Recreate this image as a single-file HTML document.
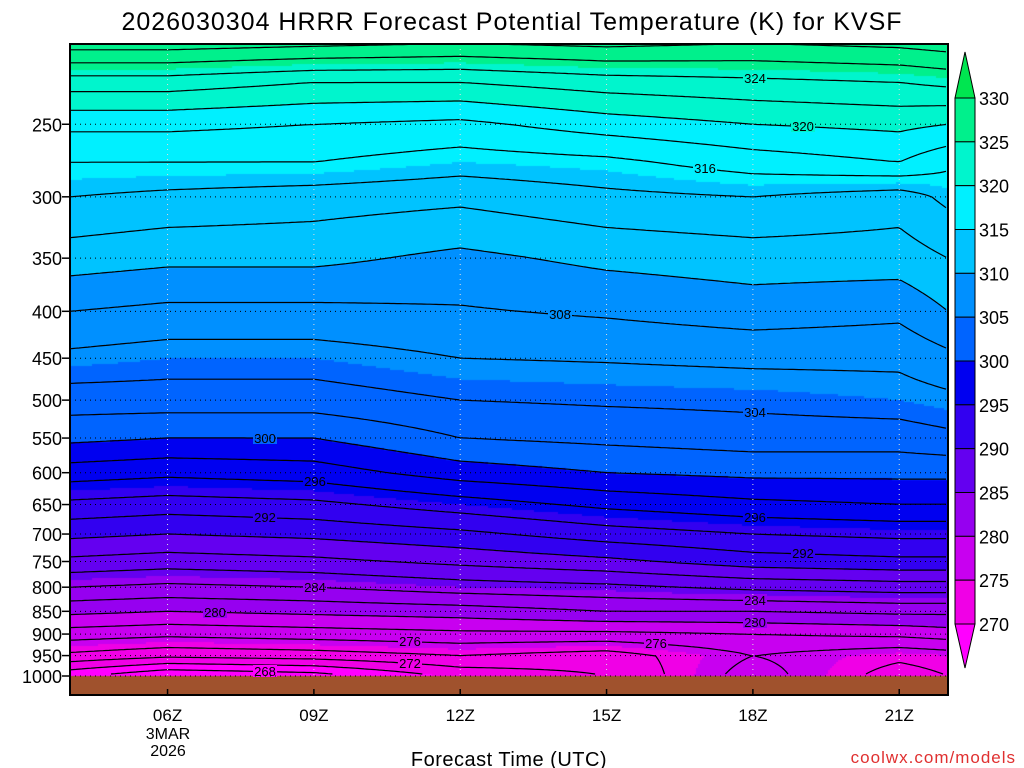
<!DOCTYPE html>
<html><head><meta charset="utf-8"><style>
body{margin:0;background:#fff;width:1024px;height:768px;overflow:hidden;font-family:"Liberation Sans",sans-serif}
#wrap{position:relative;width:1024px;height:768px}
canvas,svg{position:absolute;left:0;top:0}
</style></head><body><div id="wrap">
<canvas id="cv" width="1024" height="768"></canvas>
<svg id="sv" width="1024" height="768"></svg>
</div>
<script>
const times=[4,6,9,12,15,18,21,22];
const levels=[204,225,250,275,300,350,400,450,500,550,600,650,700,750,800,850,900,950,1000];
const th04=[329,323,318.5,316,314,311,308,305.5,303,300.5,297,293.5,290.5,287.5,284,280.5,277,273.5,268.5];
const th06=[329,323,318.5,316,313.5,310.5,307.5,305,303,300,296.5,293,290,287,283.5,280,276.5,272.5,266];
const th09=[328.5,322,318,316,313,310.5,307.5,305,303,300,297,293.5,290.5,287.5,284,280.5,277,273,267];
const th12=[328,322,317.5,315,312.5,309.5,307.8,306,304,302,299,295,291.5,288.5,285,281,277.5,274,270.5];
const th15=[328.5,323,319,315.5,313.5,310.5,308.3,306.2,304.3,302.5,300,296.5,293,289.5,285.5,282,277.5,273,272];
const th18=[328,323.5,320,317,314,311,309,306.5,304.5,303,300.5,297.5,294,291,286.5,282,278,276,277];
const th21=[328.5,324,320.5,318,313,311,308.5,306.5,305,303,300.5,298,294.5,291.5,287,282.5,278.5,274.5,273];
const th22=[329,324.5,320,316.5,314.5,312,310,307.5,305.5,303.5,300.5,298,294.5,291.5,287,282.5,279,275,274];
const cols=[th04,th06,th09,th12,th15,th18,th21,th22];
const yTicks=[250,300,350,400,450,500,550,600,650,700,750,800,850,900,950,1000];
const xTicks=[6,9,12,15,18,21];
const xTickLabels=["06Z","09Z","12Z","15Z","18Z","21Z"];
const cbLevels=[330,325,320,315,310,305,300,295,290,285,280,275,270];
const cbColors=["#00e650","#00f08c","#00f5cd","#00f0ff","#00c3ff","#0090ff","#0064ff","#0000f0","#3200f0","#6400f0","#9600f0","#c800f0","#f000e6","#ff00ff"];
const labelSpots=[[328,410],[324,755],[320,803],[316,705],[308,560],[304,755],[300,265],[296,315],[292,265],[296,755],[292,803],[284,315],[280,215],[284,755],[280,755],[276,410],[276,656],[272,410],[268,265]];

const X0=70,X1=948,Y0=44,YS=676,YB=695;
const xs=t=>X0+(t-4)*(X1-X0)/18;
const yp=p=>YS-398*Math.log(1000/p);
const ly=levels.map(yp);
function field(x,y){
  const t=4+(x-X0)*18/(X1-X0);
  let i=0;while(i<times.length-2&&t>times[i+1])i++;
  let ft=(t-times[i])/(times[i+1]-times[i]);ft=Math.max(0,Math.min(1,ft));
  let j=0;while(j<levels.length-2&&y>ly[j+1])j++;
  let fy=(y-ly[j])/(ly[j+1]-ly[j]);fy=Math.max(0,Math.min(1,fy));
  const a=cols[i][j]*(1-fy)+cols[i][j+1]*fy,b=cols[i+1][j]*(1-fy)+cols[i+1][j+1]*fy;
  return a*(1-ft)+b*ft;
}
function colorOf(v){
  if(v>=330)return cbColors[0];
  for(let k=1;k<cbLevels.length;k++)if(v>=cbLevels[k])return cbColors[k];
  return cbColors[13];
}
const cv=document.getElementById('cv'),ctx=cv.getContext('2d');
for(let x=X0;x<X1;x+=2)for(let y=Y0;y<YS;y+=2){ctx.fillStyle=colorOf(field(x+1,y+1));ctx.fillRect(x,y,2,2);}
ctx.fillStyle="#a0522d";ctx.fillRect(X0,YS,X1-X0,YB-YS);

const NS="http://www.w3.org/2000/svg",sv=document.getElementById('sv');
function mk(tag,attrs,parent){const e=document.createElementNS(NS,tag);for(const k in attrs)e.setAttribute(k,attrs[k]);(parent||sv).appendChild(e);return e;}
const st=3,gx=[],gy=[];
for(let x=X0;x<=X1;x+=st)gx.push(x);
for(let y=Y0;y<=YS;y+=st)gy.push(y);
const G=gy.map(y=>gx.map(x=>field(x,y)));
const cg=mk('g',{});

for(let L=266;L<=330;L+=2){
  let d='';
  for(let j=0;j<gy.length-1;j++)for(let i=0;i<gx.length-1;i++){
    const v=[G[j][i],G[j][i+1],G[j+1][i+1],G[j+1][i]];
    const P=[[gx[i],gy[j]],[gx[i+1],gy[j]],[gx[i+1],gy[j+1]],[gx[i],gy[j+1]]];
    const pts=[];
    for(let e=0;e<4;e++){const a=v[e],b=v[(e+1)%4];if((a<L)!==(b<L)){const f=(L-a)/(b-a),p=P[e],q=P[(e+1)%4];pts.push([p[0]+f*(q[0]-p[0]),p[1]+f*(q[1]-p[1])]);}}
    for(let k=0;k+1<pts.length;k+=2)d+=`M${pts[k][0].toFixed(1)} ${pts[k][1].toFixed(1)}L${pts[k+1][0].toFixed(1)} ${pts[k+1][1].toFixed(1)}`;
  }
  if(d){const p=mk('path',{d:d,stroke:'#000','stroke-width':1.2,fill:'none'},cg);
  }
}
labelSpots.forEach(([L,x])=>{
  let y=null;for(let yy=Y0+4;yy<YS-1;yy++){const a=field(x,yy),b=field(x,yy+1);if((a<L)!==(b<L)){y=yy;break;}}
  if(y===null)return;
  const bg=mk('rect',{x:x-12,y:y-6,width:24,height:12,fill:colorOf(field(x,y))});
  
  const t=mk('text',{x:x,y:y+5,'font-size':13,'text-anchor':'middle',fill:'#000'});t.textContent=L;
  
});
yTicks.forEach(p=>{const y=yp(p);
  const l=mk('line',{x1:X0,x2:X1,y1:y,y2:y,stroke:'#000','stroke-width':1,'stroke-dasharray':'1,4'});
  
  const tk=mk('line',{x1:X0-8,x2:X0,y1:y,y2:y,stroke:'#000','stroke-width':1.5});
  
  const t=mk('text',{x:X0-8,y:y+7,'font-size':18,'text-anchor':'end',fill:'#000'});t.textContent=p;
  
});
xTicks.forEach((h,i)=>{const x=xs(h);
  const l=mk('line',{x1:x,x2:x,y1:Y0,y2:YS,stroke:'#ddd','stroke-width':1,'stroke-dasharray':'1,4'});
  
  const tk=mk('line',{x1:x,x2:x,y1:YB-6,y2:YB,stroke:'#000','stroke-width':1.5});
  
  const t=mk('text',{x:x,y:721,'font-size':17,'text-anchor':'middle',fill:'#000'});t.textContent=xTickLabels[i];
  
});
const fr=mk('rect',{x:X0,y:Y0,width:X1-X0,height:YB-Y0,fill:'none',stroke:'#000','stroke-width':2});

const cbx=955,cbw=20,cbT=98,cbS=(624-98)/12;
const cb=mk('g',{});
mk('polygon',{points:`${cbx},${cbT} ${cbx+cbw},${cbT} ${cbx+cbw/2},52`,fill:cbColors[0],stroke:'#000','stroke-width':1},cb);
for(let k=0;k<12;k++){const r=mk('rect',{x:cbx,y:cbT+k*cbS,width:cbw,height:cbS,fill:cbColors[k+1],stroke:'#000','stroke-width':1},cb);
  }
mk('polygon',{points:`${cbx},624 ${cbx+cbw},624 ${cbx+cbw/2},668`,fill:cbColors[13],stroke:'#000','stroke-width':1},cb);
cbLevels.forEach((v,k)=>{const t=mk('text',{x:979,y:cbT+k*cbS+7,'font-size':18,fill:'#000'},cb);t.textContent=v;
  });
</script>
<svg width="1024" height="768" style="position:absolute;left:0;top:0;pointer-events:none">
<text x="512" y="30" font-size="25" text-anchor="middle" font-family="Liberation Sans" letter-spacing="1">2026030304 HRRR Forecast Potential Temperature (K) for KVSF</text>
<text x="168" y="739" font-size="16" text-anchor="middle">3MAR</text>
<text x="168" y="756" font-size="16" text-anchor="middle">2026</text>
<text x="509" y="766" font-size="20" text-anchor="middle" letter-spacing="0.5">Forecast Time (UTC)</text>
<text x="1016" y="763" font-size="17" text-anchor="end" fill="#e03030" letter-spacing="1">coolwx.com/models</text>
</svg>
</body></html>
